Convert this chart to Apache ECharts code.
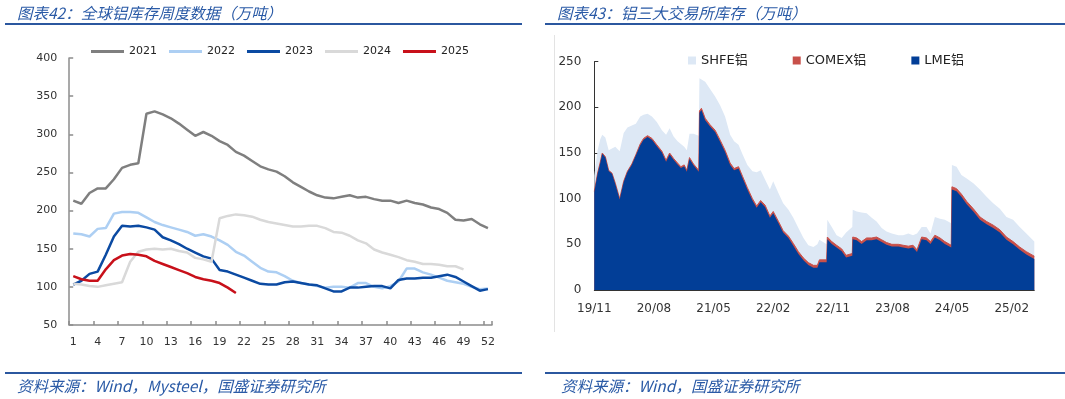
<!DOCTYPE html>
<html><head><meta charset="utf-8">
<script src="https://cdn.jsdelivr.net/npm/echarts/dist/echarts.min.js"></script>
<style>html,body{margin:0;padding:0;background:#fff}#c{width:1065px;height:399px}</style>
</head><body><div id="c"></div>
<script>
// ---- Left chart: global aluminium weekly inventory (万吨) ----
const weeks = ['1','2','3','4','5','6','7','8','9','10','11','12','13','14','15','16','17','18','19','20','21','22','23','24','25','26','27','28','29','30','31','32','33','34','35','36','37','38','39','40','41','42','43','44','45','46','47','48','49','50','51','52'];
const s2021 = [213,209,223,229,229,241,256,260,262,327,330,326,321,314,306,298,303,298,291,286,277,272,265,258,254,251,245,237,231,225,220,217,216,218,220,217,218,215,213,213,210,213,210,208,204,202,197,188,187,189,182,177];
const s2022 = [170,169,166,176,177,196,198,198,197,191,185,181,178,175,172,167,169,166,161,155,146,141,133,125,120,119,114,108,105,103,101,99,100,100,99,105,105,100,98,101,107,124,124,119,116,112,108,106,104,100,97,98];
const s2023 = [103,108,117,120,142,166,180,179,180,178,175,165,161,156,150,145,140,137,122,120,116,112,108,104,103,103,106,107,105,103,102,98,94,94,99,99,100,101,101,98,109,111,111,112,112,114,116,113,107,101,95,97];
const s2024 = [104,103,101,100,102,104,106,133,146,149,150,149,150,147,145,138,136,133,190,193,195,194,192,188,185,183,181,179,179,180,180,177,172,171,167,161,157,149,145,142,139,135,133,130,130,129,127,127,123];
const s2025 = [114,110,108,108,123,135,141,143,142,140,134,130,126,122,118,113,110,108,105,99,92];
const yearNames = ['2021','2022','2023','2024','2025'];

// ---- Right chart: three exchanges aluminium inventory (万吨) ----
const exDates = ['2019-11-01','2019-11-16','2019-11-28','2019-12-07','2019-12-21','2020-01-06','2020-01-21','2020-02-06','2020-02-26','2020-03-14',
 '2020-04-01','2020-04-21','2020-05-09','2020-05-29','2020-06-14','2020-07-02','2020-07-22','2020-08-14','2020-09-07','2020-09-26',
 '2020-10-12','2020-10-30','2020-11-18','2020-12-03','2020-12-18','2020-12-30','2021-01-12','2021-01-30','2021-02-24','2021-02-27',
 '2021-03-06','2021-03-23','2021-04-15','2021-05-08','2021-06-01','2021-06-23','2021-07-16','2021-08-04','2021-08-24','2021-09-13',
 '2021-10-04','2021-10-27','2021-11-16','2021-12-04','2021-12-24','2022-01-16','2022-02-01','2022-02-25','2022-03-16','2022-04-10',
 '2022-05-02','2022-05-25','2022-06-18','2022-07-10','2022-08-03','2022-08-21','2022-08-30','2022-10-03','2022-10-06','2022-10-26',
 '2022-11-18','2022-12-11','2023-01-01','2023-01-29','2023-02-01','2023-02-19','2023-03-11','2023-04-04','2023-04-27','2023-05-19',
 '2023-06-12','2023-07-04','2023-07-28','2023-08-07','2023-08-28','2023-09-19','2023-10-13','2023-11-04','2023-11-22','2023-12-13',
 '2024-01-05','2024-01-23','2024-02-13','2024-03-06','2024-03-28','2024-04-27','2024-04-30','2024-05-21','2024-06-13','2024-07-07',
 '2024-08-07','2024-09-07','2024-10-07','2024-11-07','2024-12-07','2025-01-07','2025-02-07','2025-03-07','2025-04-07','2025-05-13'];
const lme = [107.2,127.2,139.2,149.2,145.2,130.2,127.2,116.2,99.2,118.2,
 129.2,137.2,147.2,158.5,164.5,167.5,164.5,157.5,150.5,140.5,
 148.5,142.5,137.5,133.5,135.5,129.5,143.5,136.5,129.5,194,
 197,186,179,173,162,151,137,131,133,122,
 110,98,90,96,91,79,84,73,63,57,
 48.5,39.5,32.5,27.5,24.5,24.5,30.5,30.5,55.5,50.5,
 46.5,42.5,35.5,37.5,55.5,54.5,50.5,54.5,54.5,55.5,
 52.5,49.5,47.5,49.5,47.5,46.5,45.5,46.5,41.5,55.5,
 54.5,50.5,57.5,54.5,50.5,46.5,110,108,102,94,
 86,77,72,68,63,55,50,44,39,34];
const comex = [0.8,0.8,0.8,0.8,0.8,0.8,0.8,0.8,0.8,0.8,
 0.8,0.8,0.8,1.5,1.5,1.5,1.5,1.5,1.5,1.5,
 1.5,1.5,1.5,1.5,1.5,1.5,1.5,1.5,1.5,2,
 2,2,2,2,2,2,2,2,2,2,
 2,2,2,2,2,2,2,2,2,2,
 2.5,2.5,2.5,2.5,2.5,2.5,2.5,2.5,2.5,2.5,
 2.5,2.5,2.5,2.5,2.5,2.5,2.5,2.5,2.5,2.5,
 2.5,2.5,2.5,2.5,2.5,2.5,2.5,2.5,2.5,2.5,
 2.5,2.5,2.5,2.5,2.5,2.5,3,3,3,3,
 3,3,3,3,3,3,3,3,3,3];
const shfe = [17,25,25,20,21,22,27,40,52,53,
 48,42,34,30,26,24,24,25,23,28,
 27,24,24,25,20,22,26,33,38,36,
 33,40,39,37,38,37,31,30,24,24,
 25,30,37,33,28,29,33,31,30,29,
 28,26,22,19,20,23,22,17,19,16,
 11,12,25,29,30,29,32,27,22,17,
 13,12,12,10,10,11,14,11,18,11,
 12,9,20,21,24,24,24,24,21,25,
 28,30,27,24,23,22,24,22,20,16];
const exNames = ['SHFE铝','COMEX铝','LME铝'];

function monthIdx(d){ const p = d.split('-').map(Number); return (p[0]-2019)*12 + (p[1]-11) + (p[2]-1)/30; }
// stacked layers (bottom to top): LME, LME+COMEX, LME+COMEX+SHFE
const lmeTop = lme.map((v,i)=>[monthIdx(exDates[i]), v]);
const comexTop = lme.map((v,i)=>[monthIdx(exDates[i]), v + comex[i]]);
const shfeTop = lme.map((v,i)=>[monthIdx(exDates[i]), v + comex[i] + shfe[i]]);
function monthLabel(v){
  const t = Math.round(v); if (Math.abs(v-t) > 1e-6) return '';
  const total = 2019*12 + 10 + t; const y = Math.floor(total/12), m = total % 12 + 1;
  return String(y%100).padStart(2,'0') + '/' + String(m).padStart(2,'0');
}

const FONT = "'DejaVu Sans','Noto Sans CJK SC',sans-serif";
const CJK = '"Noto Sans CJK SC"';
const BLUE = '#2A5AA6';
const yearColors = ['#7F7F7F','#ADCFF3','#0B4AA2','#D9D9D9','#C8101A'];
const yearData = [s2021,s2022,s2023,s2024,s2025];

const chart = echarts.init(document.getElementById('c'), null, {renderer:'canvas'});
const leftAxisLine = {show:true, lineStyle:{color:'#8c8c8c', width:1.5}};
const rightAxisLine = {show:true, lineStyle:{color:'#333', width:1}};

const option = {
  animation:false,
  backgroundColor:'#fff',
  textStyle:{fontFamily:FONT},
  grid:[
    {left:69.2, right:1065-492, top:58, bottom:399-325, containLabel:false},
    {left:594.3, right:1065-1034.3, top:61.7, bottom:399-290, containLabel:false}
  ],
  legend:[
    {data:yearNames, left:86, top:41, icon:'rect', itemWidth:33, itemHeight:3, itemGap:12,
     textStyle:{fontSize:11, color:'#222', fontFamily:FONT}},
    {data:exNames, left:683, top:49, icon:'rect', itemWidth:8, itemHeight:8, itemGap:45,
     textStyle:{fontSize:13, color:'#222', fontFamily:FONT}}
  ],
  xAxis:[
    {type:'category', gridIndex:0, data:weeks, boundaryGap:true,
     axisLine:leftAxisLine,
     axisTick:{show:true, inside:true, length:4, interval:2, lineStyle:{color:'#8c8c8c', width:1.5}},
     axisLabel:{interval:2, fontSize:11, color:'#333', margin:12, fontFamily:FONT},
     splitLine:{show:false}},
    {type:'value', gridIndex:1, min:0, max:66.4, interval:9,
     axisLine:rightAxisLine,
     axisTick:{show:true, inside:true, length:4, lineStyle:{color:'#333'}},
     axisLabel:{fontSize:12, color:'#333', margin:13, showMaxLabel:false, formatter:monthLabel, fontFamily:FONT},
     splitLine:{show:false}}
  ],
  yAxis:[
    {type:'value', gridIndex:0, min:50, max:400, interval:50,
     axisLine:leftAxisLine,
     axisTick:{show:true, inside:true, length:4, lineStyle:{color:'#8c8c8c', width:1.5}},
     axisLabel:{fontSize:11, color:'#333', margin:12, fontFamily:FONT},
     splitLine:{show:false}},
    {type:'value', gridIndex:1, min:0, max:250, interval:50,
     axisLine:rightAxisLine,
     axisTick:{show:true, inside:true, length:4, lineStyle:{color:'#333'}},
     axisLabel:{fontSize:12, color:'#333', margin:13, fontFamily:FONT},
     splitLine:{show:false}}
  ],
  series:[
    ...yearNames.map((n,i)=>({name:n, type:'line', xAxisIndex:0, yAxisIndex:0, data:yearData[i],
      symbol:'none', showSymbol:false, itemStyle:{color:yearColors[i]},
      lineStyle:{color:yearColors[i], width:2.5}, z:2+i})),
    {name:'SHFE铝', type:'line', xAxisIndex:1, yAxisIndex:1, data:shfeTop, z:2,
      symbol:'none', showSymbol:false, itemStyle:{color:'#DDE8F5'}, lineStyle:{width:0},
      areaStyle:{color:'#DDE8F5', opacity:1}},
    {name:'COMEX铝', type:'line', xAxisIndex:1, yAxisIndex:1, data:comexTop, z:3,
      symbol:'none', showSymbol:false, itemStyle:{color:'#C8504A'}, lineStyle:{width:1, color:'#C8504A'},
      areaStyle:{color:'#C8504A', opacity:1}},
    {name:'LME铝', type:'line', xAxisIndex:1, yAxisIndex:1, data:lmeTop, z:4,
      symbol:'none', showSymbol:false, itemStyle:{color:'#023E97'}, lineStyle:{width:0},
      areaStyle:{color:'#023E97', opacity:1}}
  ],
  graphic:[
    {type:'text', x:17, y:13, style:{text:'图表42：全球铝库存周度数据（万吨）', font:'italic 15.5px '+CJK, fill:BLUE, align:'left', verticalAlign:'middle'}},
    {type:'text', x:557, y:13, style:{text:'图表43：铝三大交易所库存（万吨）', font:'italic 15.5px '+CJK, fill:BLUE, align:'left', verticalAlign:'middle'}},
    {type:'line', shape:{x1:5, y1:24, x2:522, y2:24}, style:{stroke:'#2B579F', lineWidth:2}},
    {type:'line', shape:{x1:545, y1:24, x2:1065, y2:24}, style:{stroke:'#2B579F', lineWidth:2}},
    {type:'line', shape:{x1:5, y1:373, x2:522, y2:373}, style:{stroke:'#2B579F', lineWidth:2}},
    {type:'line', shape:{x1:545, y1:373, x2:1065, y2:373}, style:{stroke:'#2B579F', lineWidth:2}},
    {type:'line', shape:{x1:554.5, y1:35, x2:554.5, y2:332}, style:{stroke:'#E3E3E3', lineWidth:1}},
    {type:'text', x:17, y:386, style:{text:'资料来源：Wind，Mysteel，国盛证券研究所', font:'italic 15.5px '+CJK, fill:BLUE, align:'left', verticalAlign:'middle'}},
    {type:'text', x:561, y:386, style:{text:'资料来源：Wind，国盛证券研究所', font:'italic 15.5px '+CJK, fill:BLUE, align:'left', verticalAlign:'middle'}}
  ]
};
chart.setOption(option);
</script></body></html>
